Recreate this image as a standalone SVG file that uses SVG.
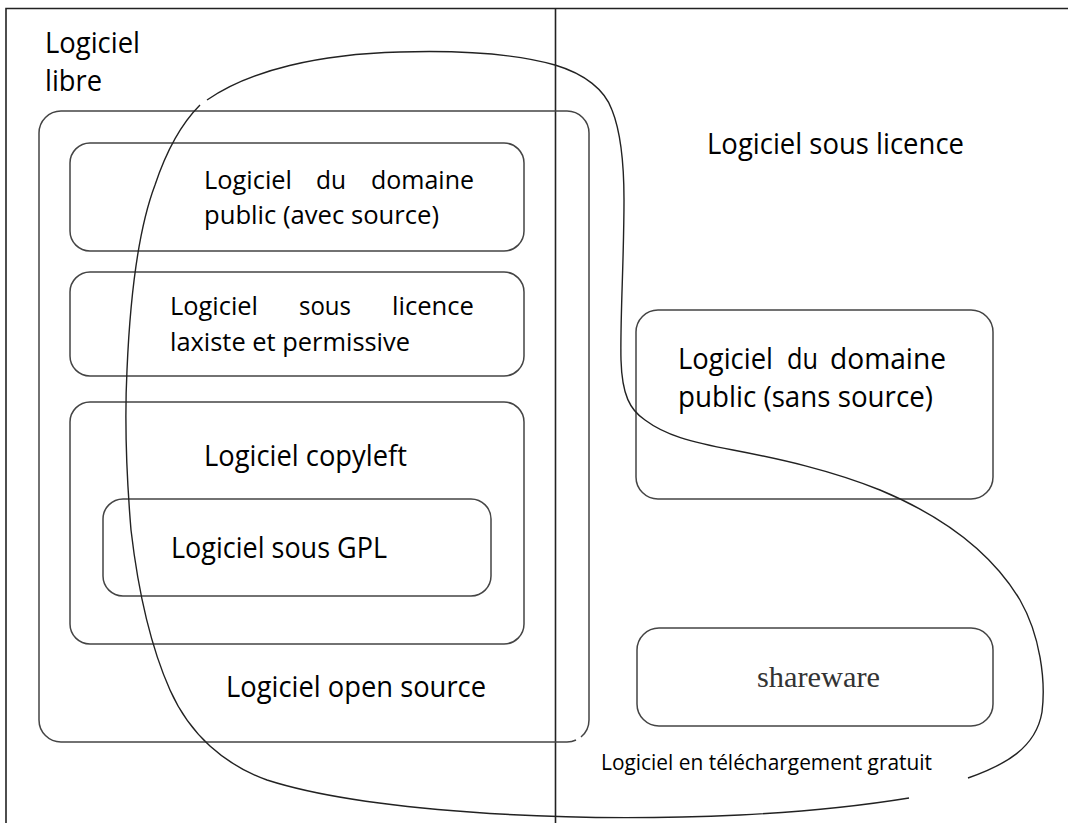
<svg xmlns="http://www.w3.org/2000/svg" width="1068" height="823" viewBox="0 0 1068 823">
  <style>
    .frame { fill: none; stroke: #222; stroke-width: 1.6; }
    .box { fill: none; stroke: #444; stroke-width: 1.5; }
    .curve { fill: none; stroke: #222; stroke-width: 1.4; }
    .t { font-family: "Open Sans", "Noto Sans", sans-serif; fill: #000; }
    .big { font-size: 29px; }
    .mid { font-size: 26px; }
    .small { font-size: 21px; }
    .serif { font-family: "Liberation Serif", "Times New Roman", serif; font-size: 30px; fill: #333; }
  </style>
  <rect width="1068" height="823" fill="#fff"/>

  <g id="frame">
    <path class="frame" d="M6,823 V8.5 H1068"/>
    <line class="frame" x1="555.5" y1="8.5" x2="555.5" y2="823"/>
  </g>

  <g id="logiciel-libre">
    <text class="t big" x="45" y="53" textLength="95" lengthAdjust="spacingAndGlyphs">Logiciel</text>
    <text class="t big" x="45" y="91" textLength="57" lengthAdjust="spacingAndGlyphs">libre</text>
  </g>

  <g id="logiciel-sous-licence">
    <text class="t big" x="707" y="154" textLength="257" lengthAdjust="spacingAndGlyphs">Logiciel sous licence</text>
  </g>

  <g id="open-source">
    <path class="box" d="M576,740 Q572,742 567,742 H61 A22,22 0 0 1 39,720 V133 A22,22 0 0 1 61,111 H567 A22,22 0 0 1 589,133 V720 A22,22 0 0 1 581,737"/>
    <text class="t big" x="226" y="697" textLength="260" lengthAdjust="spacingAndGlyphs">Logiciel open source</text>
  </g>

  <g id="domaine-public-avec-source">
    <rect class="box" x="70" y="143" width="454" height="108" rx="20"/>
    <text class="t mid" y="189">
      <tspan x="204" textLength="88" lengthAdjust="spacingAndGlyphs">Logiciel</tspan>
      <tspan x="316" textLength="30" lengthAdjust="spacingAndGlyphs">du</tspan>
      <tspan x="371" textLength="103" lengthAdjust="spacingAndGlyphs">domaine</tspan>
    </text>
    <text class="t mid" x="204" y="224" textLength="235" lengthAdjust="spacingAndGlyphs">public (avec source)</text>
  </g>

  <g id="licence-laxiste">
    <rect class="box" x="70" y="272" width="454" height="104" rx="20"/>
    <text class="t mid" y="315">
      <tspan x="170" textLength="88" lengthAdjust="spacingAndGlyphs">Logiciel</tspan>
      <tspan x="299" textLength="52" lengthAdjust="spacingAndGlyphs">sous</tspan>
      <tspan x="392" textLength="82" lengthAdjust="spacingAndGlyphs">licence</tspan>
    </text>
    <text class="t mid" x="170" y="351" textLength="240" lengthAdjust="spacingAndGlyphs">laxiste et permissive</text>
  </g>

  <g id="copyleft">
    <rect class="box" x="70" y="402" width="454" height="242" rx="20"/>
    <text class="t big" x="204" y="466" textLength="203" lengthAdjust="spacingAndGlyphs">Logiciel copyleft</text>
  </g>

  <g id="gpl">
    <rect class="box" x="103" y="499" width="388" height="97" rx="20"/>
    <text class="t big" x="171" y="558" textLength="216" lengthAdjust="spacingAndGlyphs">Logiciel sous GPL</text>
  </g>

  <g id="domaine-public-sans-source">
    <rect class="box" x="636" y="310" width="357" height="189" rx="22"/>
    <text class="t big" y="369">
      <tspan x="678" textLength="95" lengthAdjust="spacingAndGlyphs">Logiciel</tspan>
      <tspan x="787" textLength="31" lengthAdjust="spacingAndGlyphs">du</tspan>
      <tspan x="830" textLength="116" lengthAdjust="spacingAndGlyphs">domaine</tspan>
    </text>
    <text class="t big" x="678" y="407" textLength="255" lengthAdjust="spacingAndGlyphs">public (sans source)</text>
  </g>

  <g id="shareware">
    <rect class="box" x="637" y="628" width="356" height="98" rx="22"/>
    <text class="serif" x="757" y="687" textLength="123" lengthAdjust="spacingAndGlyphs">shareware</text>
  </g>

  <g id="telechargement-gratuit">
    <text class="t small" x="601" y="770" textLength="331" lengthAdjust="spacingAndGlyphs">Logiciel en téléchargement gratuit</text>
  </g>

  <g id="connectors">
    <path class="curve" d="M207,100 C250,70 320,54 400,52 C470,50 520,55 555,65 C585,74 605,90 612,110 C622,135 624,170 624,200 C624,260 620,320 621,360 C622,395 630,410 645,420 C665,435 690,442 733,450 C780,459 830,470 880,490 C940,515 990,550 1020,600 C1040,635 1046,680 1042,712 C1036,748 1005,765 968,778"/>
    <path class="curve" d="M909,798 C860,806 800,812 740,815 C650,819 550,818 470,812 C400,807 320,797 267,780 C225,765 190,735 170,690 C150,645 138,590 131,530 C126,470 125,410 127,370 C130,300 138,230 155,185 C165,155 180,125 200,105"/>
  </g>
</svg>
